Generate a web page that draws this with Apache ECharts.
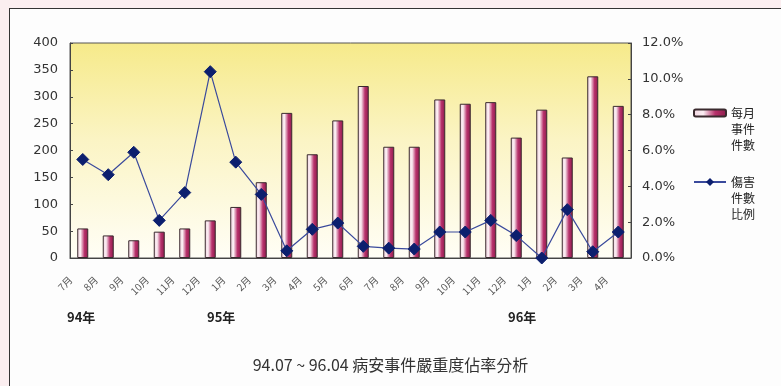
<!DOCTYPE html>
<html>
<head>
<meta charset="utf-8">
<script src="https://cdn.jsdelivr.net/npm/echarts@6/dist/echarts.min.js"></script>
<style>
  html, body { margin: 0; padding: 0; background: #fbeef0; }
  #frame { position: absolute; left: 9px; top: 8px; width: 772px; height: 378px;
           border-left: 1px solid #333; border-top: 1px solid #333; background: #fdfdfd; }
  #main { position: absolute; left: 0; top: 0; width: 781px; height: 386px; }
</style>
</head>
<body>
<div id="frame"></div>
<div id="main"></div>
<script>
// months 94.07 ~ 96.04
const months = ['7月', '8月', '9月', '10月', '11月', '12月',
  '1月', '2月', '3月', '4月', '5月', '6月', '7月', '8月', '9月', '10月', '11月', '12月',
  '1月', '2月', '3月', '4月'];
// 每月事件件數
const caseCounts = [55, 42, 33, 49, 55, 70, 95, 141, 270, 193, 256, 320, 207, 207, 295, 287, 290, 224, 276, 187, 338, 283];
// 傷害件數比例 (%)
const injuryRatio = [5.5, 4.65, 5.9, 2.1, 3.65, 10.4, 5.35, 3.55, 0.4, 1.6, 1.95, 0.65, 0.55, 0.5, 1.45, 1.45, 2.1, 1.25, 0, 2.7, 0.35, 1.45];
const leftTicks = { min: 0, max: 400, interval: 50 };
const rightTicks = { min: 0, max: 12, interval: 2 };

const barName = '每月事件件數';
const lineName = '傷害件數比例';

const myChart = echarts.init(document.querySelector('#main'));

const axisText = { color: '#333', fontSize: 13, fontFamily: 'DejaVu Sans' };
// split legend names into 2-char rows; two blank rows on top so the
// first row sits level with the icon (legend text is middle-aligned)
const splitName = (n) => '\n\n' + n.match(/.{1,2}/g).join('\n');
const legendText = {
  color: '#222', fontSize: 12, lineHeight: 16, fontFamily: 'Noto Sans CJK TC'
};

const option = {
  animation: false,
  textStyle: { fontFamily: 'DejaVu Sans' },
  title: {
    text: '94.07 ~ 96.04 病安事件嚴重度佔率分析',
    left: 'center',
    top: 352,
    textStyle: { fontSize: 16, fontWeight: 'normal', color: '#333', fontFamily: 'Noto Sans CJK TC' }
  },
  legend: [{
    data: [barName],
    orient: 'vertical',
    left: 693,
    top: 73,
    padding: 0,
    itemWidth: 32,
    itemHeight: 7,
    itemGap: 0,
    formatter: splitName,
    textStyle: legendText
  }, {
    data: [lineName],
    orient: 'vertical',
    left: 693,
    top: 142,
    padding: 0,
    itemWidth: 32,
    itemHeight: 10,
    itemGap: 0,
    formatter: splitName,
    textStyle: legendText
  }],
  grid: {
    left: 70,
    right: 150,
    top: 43,
    bottom: 128,
    show: true,
    borderColor: '#555',
    borderWidth: 1,
    backgroundColor: new echarts.graphic.LinearGradient(0, 0, 0, 1, [
      { offset: 0, color: '#f6ea8a' },
      { offset: 0.45, color: '#fbf4c4' },
      { offset: 1, color: '#fffef6' }
    ])
  },
  xAxis: {
    type: 'category',
    data: months,
    axisLine: { lineStyle: { color: '#444' } },
    axisTick: { inside: true, length: 3, lineStyle: { color: '#444' } },
    axisLabel: {
      rotate: 45, fontSize: 10, color: '#555', margin: 8,
      padding: [0, 17, 0, 0], fontFamily: 'Noto Sans CJK TC'
    },
    splitLine: { show: false }
  },
  yAxis: [{
    type: 'value',
    min: leftTicks.min,
    max: leftTicks.max,
    interval: leftTicks.interval,
    axisLine: { show: true, lineStyle: { color: '#444' } },
    axisTick: { show: true, inside: true, length: 3, lineStyle: { color: '#444' } },
    axisLabel: Object.assign({ margin: 12 }, axisText),
    splitLine: { show: false }
  }, {
    type: 'value',
    min: rightTicks.min,
    max: rightTicks.max,
    interval: rightTicks.interval,
    axisLine: { show: true, lineStyle: { color: '#444' } },
    axisTick: { show: true, inside: true, length: 3, lineStyle: { color: '#444' } },
    axisLabel: Object.assign({ margin: 11, formatter: (v) => v.toFixed(1) + '%' }, axisText),
    splitLine: { show: false }
  }],
  graphic: [
    { type: 'text', left: 67, top: 311, style: { text: '94年', font: 'bold 13px "Noto Sans CJK TC"', fill: '#222' } },
    { type: 'text', left: 207, top: 311, style: { text: '95年', font: 'bold 13px "Noto Sans CJK TC"', fill: '#222' } },
    { type: 'text', left: 508, top: 311, style: { text: '96年', font: 'bold 13px "Noto Sans CJK TC"', fill: '#222' } }
  ],
  series: [{
    name: barName,
    type: 'bar',
    data: caseCounts,
    barWidth: 11,
    itemStyle: {
      color: new echarts.graphic.LinearGradient(0, 0, 1, 0, [
        { offset: 0, color: '#f2d4e0' },
        { offset: 0.3, color: '#fbeef3' },
        { offset: 0.65, color: '#b8326c' },
        { offset: 1, color: '#8c1a4a' }
      ]),
      borderColor: '#3a2a2e',
      borderWidth: 1
    }
  }, {
    name: lineName,
    type: 'line',
    yAxisIndex: 1,
    data: injuryRatio,
    symbol: 'diamond',
    symbolSize: 12,
    lineStyle: { color: '#3a4a9c', width: 1.2 },
    itemStyle: { color: '#0c1f6e', borderColor: '#0c1f6e' },
    z: 3
  }]
};

myChart.setOption(option);
</script>
</body>
</html>
